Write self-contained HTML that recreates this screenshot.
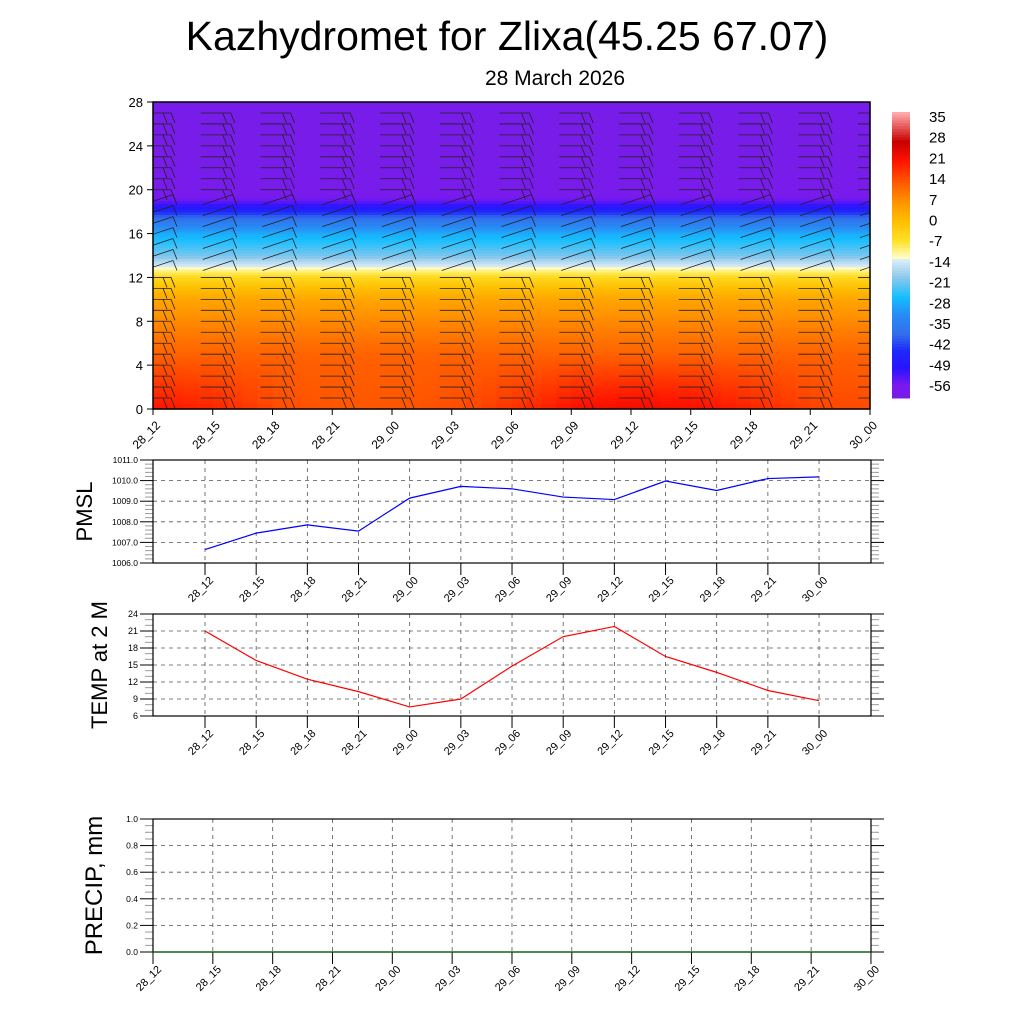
<!DOCTYPE html>
<html><head><meta charset="utf-8"><style>
body{margin:0;background:#fff;}
svg{display:block;font-family:"Liberation Sans",sans-serif;}
</style></head><body>
<svg id="s" width="1024" height="1024" xmlns="http://www.w3.org/2000/svg">
<defs><clipPath id="tc"><rect x="153" y="102" width="717" height="307"/></clipPath></defs>
<text x="507" y="50" font-size="41" text-anchor="middle">Kazhydromet for Zlixa(45.25 67.07)</text>
<text x="555" y="85" font-size="21" text-anchor="middle">28 March 2026</text>
<g id="top"></g><g id="cbar"></g><g id="pmsl"></g><g id="temp"></g><g id="precip"></g>
</svg>
<script>
const times=["28_12","28_15","28_18","28_21","29_00","29_03","29_06","29_09","29_12","29_15","29_18","29_21","30_00"];
const pmsl=[1006.65,1007.45,1007.85,1007.55,1009.15,1009.72,1009.6,1009.2,1009.08,1009.98,1009.52,1010.1,1010.18];
const t2m=[21,15.8,12.5,10.3,7.6,9,14.8,20,21.8,16.5,13.7,10.5,8.7];
const precip=[0,0,0,0,0,0,0,0,0,0,0,0,0];
const heights=[0,2,4,6,8,10,11,12,12.8,13.2,14,16,17.5,18.5,19.5,22,24,28];
const profile=[19,16.5,14,11,8,4,0,-5,-12,-15,-21,-29,-40,-52,-60,-61,-62,-61];
const surfOffset=[2,0,-4,-5,-5,-4,-1,3,4,3,0,-3,-4];
const cbLabels=[35,28,21,14,7,0,-7,-14,-21,-28,-35,-42,-49,-56];
const NS="http://www.w3.org/2000/svg";
function el(p,t,a){const e=document.createElementNS(NS,t);for(const k in a)e.setAttribute(k,a[k]);p.appendChild(e);return e;}
const stops=[[-63,[120,30,230]],[-58,[120,25,240]],[-52,[40,20,255]],[-46,[30,40,250]],[-40,[50,110,235]],[-33,[40,140,245]],[-27,[20,190,255]],[-20,[140,200,235]],[-14,[215,235,248]],[-13,[255,252,200]],[-7,[255,225,40]],[0,[255,190,0]],[7,[255,145,0]],[14,[255,85,0]],[21,[255,20,0]],[28,[200,0,0]],[38,[255,170,170]]];
function col(v){if(v<=stops[0][0])return `rgb(${stops[0][1]})`;for(let i=1;i<stops.length;i++){if(v<=stops[i][0]){const a=stops[i-1],b=stops[i],f=(v-a[0])/(b[0]-a[0]);return `rgb(${a[1].map((c,j)=>Math.round(c+(b[1][j]-c)*f))})`;}}return `rgb(${stops[stops.length-1][1]})`;}
function rotLabel(g,x,y,txt,fs,name){const t=el(g,'text',{x:x,y:y,'font-size':fs,'text-anchor':'end',transform:`rotate(-45 ${x} ${y})`});t.textContent=txt;}
// TOP
(function(){
const g=document.getElementById('top');const X0=153,X1=870,Y0=102,Y1=409;
const xs=i=>X0+(X1-X0)*i/12, ys=h=>Y1-(Y1-Y0)*h/28;
function prof(h){for(let i=1;i<heights.length;i++)if(h<=heights[i]){const f=(h-heights[i-1])/(heights[i]-heights[i-1]);return profile[i-1]+(profile[i]-profile[i-1])*f;}return profile[profile.length-1];}
const cw=(X1-X0)/48;
for(let c=0;c<48;c++){const tp=c/4;const i0=Math.min(11,Math.floor(tp)),f=tp-i0;const off=surfOffset[i0]*(1-f)+surfOffset[i0+1]*f;
 for(let h=0;h<28;h+=0.25){const w=Math.max(0,1-h/5);const v=prof(h+0.125)+off*w;
  const r=el(g,'rect',{x:X0+c*cw,y:ys(h+0.25),width:cw+0.6,height:(Y1-Y0)/112+0.6,fill:col(v)});
  }}
const bg=el(g,'g',{'clip-path':'url(#tc)'});
for(let i=0;i<13;i++){const x=xs(i);
 for(let h=1;h<28;h++){const y=ys(h);const up=h>=13&&h<=19;
  const b=el(bg,'path',{d:up?`M${x-10} ${y+4}L${x+20} ${y-6}M${x+20} ${y-6}L${x+24} ${y+4}`:`M${x-12} ${y}L${x+18} ${y}L${x+22} ${y+10}M${x+10} ${y}L${x+14} ${y+10}`,stroke:'#222','stroke-width':0.8,fill:'none'});
  }}
el(g,'rect',{x:X0,y:Y0,width:X1-X0,height:Y1-Y0,fill:'none',stroke:'#000','stroke-width':1.5});
for(let h=0;h<=28;h+=4){el(g,'line',{x1:X0-6,x2:X0,y1:ys(h),y2:ys(h),stroke:'#000'});const t=el(g,'text',{x:X0-10,y:ys(h)+5,'font-size':13,'text-anchor':'end'});t.textContent=h;}
times.forEach((tm,i)=>{el(g,'line',{x1:xs(i),x2:xs(i),y1:Y1,y2:Y1+6,stroke:'#000'});rotLabel(g,xs(i)+8,Y1+17,tm,12,'time-tick-label');});
})();
// COLORBAR
(function(){const g=document.getElementById('cbar');const y0=112,y1=398,n=101;
for(let k=0;k<n;k++){const v=38-(101)*k/n;const r=el(g,'rect',{x:892,y:y0+(y1-y0)*k/n,width:18,height:(y1-y0)/n+0.5,fill:col(v)});}
cbLabels.forEach((v,i)=>{const t=el(g,'text',{x:929,y:122+i*20.7,'font-size':15});t.textContent=v;});
})();
function linePanel(id,vals,Y0,Y1,vmin,vmax,step,minor,fmt,color,title,fsTick,xFirst,xStep,tickXs,titleX,titleFs){
 const g=document.getElementById(id);const X0=153,X1=871;
 const ys=v=>Y1-(Y1-Y0)*(v-vmin)/(vmax-vmin);const xs=i=>xFirst+xStep*i;
 for(let v=vmin;v<=vmax+1e-9;v+=minor){const maj=Math.abs((v-vmin)/step-Math.round((v-vmin)/step))<1e-6;const L=maj?13:8;
  el(g,'line',{x1:X0-L,x2:X0,y1:ys(v),y2:ys(v),stroke:maj?'#000':'#999'});el(g,'line',{x1:X1,x2:X1+L,y1:ys(v),y2:ys(v),stroke:maj?'#000':'#999'});}
 for(let v=vmin;v<=vmax+1e-9;v+=step){if(v>vmin&&v<vmax)el(g,'line',{x1:X0,x2:X1,y1:ys(v),y2:ys(v),stroke:'#555','stroke-dasharray':'4,4','stroke-width':0.8});
  const t=el(g,'text',{x:X0-15,y:ys(v)+3,'font-size':fsTick,'text-anchor':'end'});t.textContent=fmt(v);}
 tickXs.forEach((x,i)=>{el(g,'line',{x1:x,x2:x,y1:Y0,y2:Y1,stroke:'#555','stroke-dasharray':'4,4','stroke-width':0.8});el(g,'line',{x1:x,x2:x,y1:Y1,y2:Y1+12,stroke:'#000'});rotLabel(g,x+9,Y1+18,times[i],11,'x-tick-label');});
 el(g,'rect',{x:X0,y:Y0,width:X1-X0,height:Y1-Y0,fill:'none',stroke:'#000','stroke-width':1.2});
 const p=el(g,'polyline',{points:vals.map((v,i)=>xs(i)+','+ys(v)).join(' '),fill:'none',stroke:color,'stroke-width':1.2});
 
 const yc=(Y0+Y1)/2;const t=el(g,'text',{x:titleX,y:yc,'font-size':titleFs,'text-anchor':'middle',transform:`rotate(-90 ${titleX} ${yc})`});t.textContent=title;
}
const tx1=times.map((_,i)=>205+51.17*i);
linePanel('pmsl',pmsl,460,563,1006,1011,1,0.2,v=>v.toFixed(1),'#0000ff','PMSL',8.5,205,51.17,tx1,92,22);
linePanel('temp',t2m,614,716,6,24,3,1,v=>v,'#ff0000','TEMP at 2 M',9,205,51.17,tx1,107,22);
const tx2=times.map((_,i)=>153+59.83*i);
linePanel('precip',precip,819,952,0,1,0.2,0.05,v=>v.toFixed(1),'#006400','PRECIP, mm',8.5,153,59.83,tx2,102,24);
</script>
</body></html>
